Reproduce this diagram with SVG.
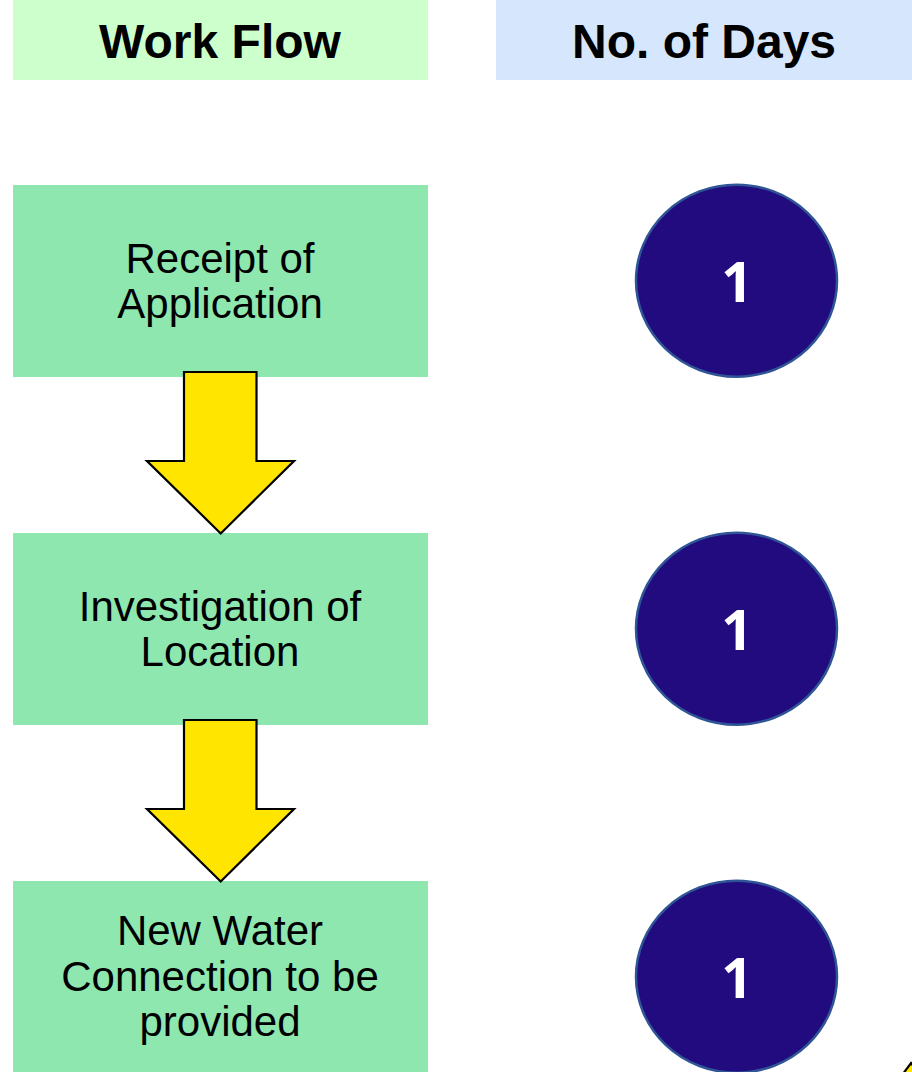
<svg xmlns="http://www.w3.org/2000/svg" width="912" height="1072" viewBox="0 0 912 1072">
  <style>
    .hdr { font-family: "Liberation Sans", Arial, sans-serif; font-weight: bold; font-size: 48px; fill: #000; text-anchor: middle; }
    .box { fill: #8EE7AF; }
    .lbl { font-family: "Liberation Sans", Arial, sans-serif; font-size: 42px; fill: #000; text-anchor: middle; }
    .days { fill: #210B7E; stroke: #2F5597; stroke-width: 2.5; }
    .num { font-family: "Open Sans", "Noto Sans", sans-serif; font-weight: bold; font-size: 55px; fill: #FFFFFF; text-anchor: middle; }
    .arrow { fill: #FFE500; stroke: #000; stroke-width: 2.2; stroke-linejoin: miter; }
  </style>
  <rect width="912" height="1072" fill="#FFFFFF"/>

  <g id="header-workflow">
    <rect x="13" y="0" width="415" height="80" fill="#CCFFCC"/>
    <text class="hdr" x="220" y="58">Work Flow</text>
  </g>
  <g id="header-days">
    <rect x="496" y="0" width="416" height="80" fill="#D6E6FC"/>
    <text class="hdr" x="704" y="58">No. of Days</text>
  </g>

  <g id="step1">
    <rect class="box" x="13" y="185" width="415" height="192"/>
    <text class="lbl" x="220" y="272.5">Receipt of</text>
    <text class="lbl" x="220" y="318">Application</text>
  </g>
  <g id="step2">
    <rect class="box" x="13" y="533" width="415" height="192"/>
    <text class="lbl" x="220" y="620.5">Investigation of</text>
    <text class="lbl" x="220" y="666">Location</text>
  </g>
  <g id="step3">
    <rect class="box" x="13" y="881" width="415" height="191"/>
    <text class="lbl" x="220" y="945">New Water</text>
    <text class="lbl" x="220" y="990.5">Connection to be</text>
    <text class="lbl" x="220" y="1036">provided</text>
  </g>

  <g id="days1">
    <ellipse class="days" cx="736.5" cy="280.7" rx="100.5" ry="96"/>
    <text class="num" x="737" y="302">1</text>
  </g>
  <g id="days2">
    <ellipse class="days" cx="736.5" cy="628.7" rx="100.5" ry="96"/>
    <text class="num" x="737" y="650">1</text>
  </g>
  <g id="days3">
    <ellipse class="days" cx="736.5" cy="976.7" rx="100.5" ry="96"/>
    <text class="num" x="737" y="998">1</text>
  </g>

  <g id="connectors">
    <polygon class="arrow" points="184,372 256.5,372 256.5,461 294,461 220.7,533.5 147,461 184,461"/>
    <polygon class="arrow" points="184,720 256.5,720 256.5,809 294,809 220.7,881.5 147,809 184,809"/>
    <polygon class="arrow" points="911,1063 925,1082 897,1082"/>
  </g>
</svg>
